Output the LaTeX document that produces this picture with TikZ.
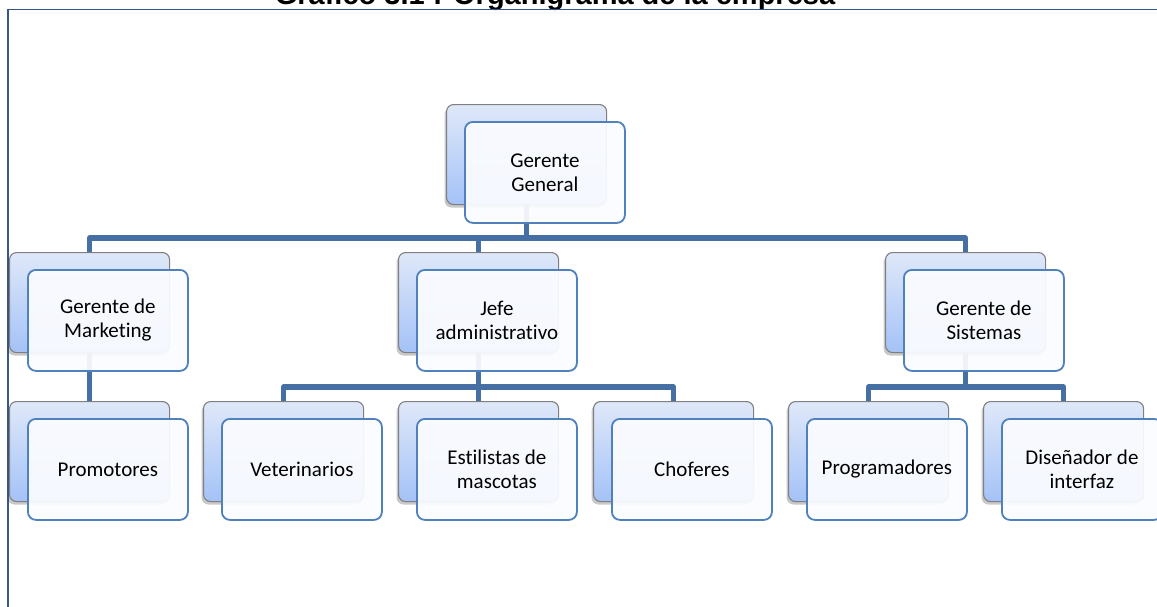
\documentclass[tikz,border=0pt]{standalone}
\usepackage{fontspec}
\setmainfont[Ligatures=NoCommon]{Carlito}
\newfontfamily\titlefont{Liberation Sans}
\usetikzlibrary{shadows}
\pgfdeclarelayer{background}
\pgfsetlayers{background,main}
\definecolor{connblue}{RGB}{70,112,163}
\definecolor{frontline}{RGB}{79,129,189}
\definecolor{backtop}{RGB}{223,232,249}
\definecolor{backbot}{RGB}{164,194,247}
\definecolor{backline}{RGB}{128,128,128}
\definecolor{framecol}{RGB}{54,86,140}
\definecolor{frontfill}{RGB}{251,252,255}
\tikzset{
  backbox/.style={draw=backline, line width=1.1pt, rounded corners=7pt,
    top color=backtop, bottom color=backbot, minimum width=160pt, minimum height=100pt,
    anchor=north west, inner sep=0pt,
    drop shadow={shadow xshift=-2pt, shadow yshift=-3pt, opacity=0.3, fill=black!70}},
  frontbox/.style={draw=frontline, line width=1.8pt, rounded corners=8pt,
    fill=frontfill, fill opacity=0.93, text opacity=1, minimum width=160pt, minimum height=101pt,
    anchor=north west, inner sep=0pt, align=center,
    font=\fontsize{21}{24}\selectfont},
  conn/.style={draw=connblue, line width=5.5pt, line join=round, line cap=rect},
  frameline/.style={draw=framecol, line width=1.6pt}
}
\begin{document}
\begin{tikzpicture}[x=1pt,y=-1pt]
\useasboundingbox (0,0) rectangle (1157,606);
\begin{pgfonlayer}{background}
\fill[white] (0,0) rectangle (1157,606);
\end{pgfonlayer}
% title (clipped by page top, as in the reference)
\node[anchor=base, font=\titlefont\bfseries\fontsize{29}{32}\selectfont, inner sep=0pt] (title) at (555,4) {Gráfico 3.1 : Organigrama de la empresa};
% frame
\draw[frameline] (1160,9.5) -- (8,9.5) -- (8,610);
% back boxes
\node[backbox] (ggb) at (446,104) {};
\node[backbox] (gmb) at (9,252) {};
\node[backbox] (jab) at (398,252) {};
\node[backbox] (gsb) at (885,252) {};
\node[backbox] (prb) at (9,401) {};
\node[backbox] (veb) at (203,401) {};
\node[backbox] (esb) at (398,401) {};
\node[backbox] (chb) at (593,401) {};
\node[backbox] (pgb) at (788,401) {};
\node[backbox] (dib) at (983,401) {};
% front boxes
\node[frontbox] (gg) at (464,121) {Gerente\\General};
\node[frontbox] (gm) at (27,269) {Gerente de\\Marketing};
\node[frontbox] (ja) at (416,269) {Jefe\\administrativo};
\node[frontbox] (gs) at (903,269) {Gerente de\\Sistemas};
\node[frontbox] (pr) at (27,418) {Promotores};
\node[frontbox] (ve) at (221,418) {Veterinarios};
\node[frontbox] (es) at (416,418) {Estilistas de\\mascotas};
\node[frontbox] (ch) at (611,418) {Choferes};
\node[frontbox] (pg) at (806,418) {Programadores};
\node[frontbox] (di) at (1001,418) {Diseñador de\\interfaz};
% connectors, beneath the boxes
\begin{pgfonlayer}{background}
\draw[conn] (ggb.south) -- ++(0,33) -| (gmb.north);
\draw[conn] (ggb.south) -- ++(0,33) -| (jab.north);
\draw[conn] (ggb.south) -- ++(0,33) -| (gsb.north);
\draw[conn] (gmb.south) -- (prb.north);
\draw[conn] (jab.south) -- ++(0,34) -| (veb.north);
\draw[conn] (jab.south) -- ++(0,34) -| (esb.north);
\draw[conn] (jab.south) -- ++(0,34) -| (chb.north);
\draw[conn] (gsb.south) -- ++(0,34) -| (pgb.north);
\draw[conn] (gsb.south) -- ++(0,34) -| (dib.north);
\end{pgfonlayer}
\end{tikzpicture}
\end{document}
